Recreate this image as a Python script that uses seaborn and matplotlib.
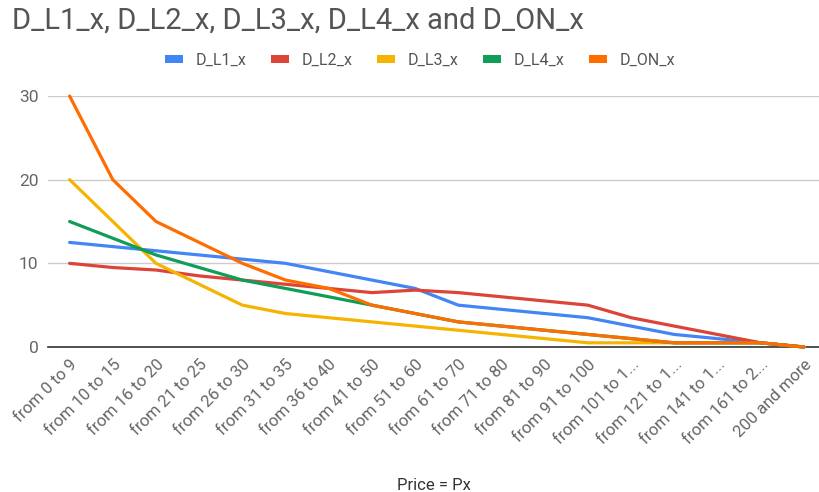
import numpy as np
import pandas as pd
import matplotlib
matplotlib.use("Agg")
import matplotlib.pyplot as plt
import seaborn as sns
from matplotlib.patches import Patch

categories = ["from 0 to 9", "from 10 to 15", "from 16 to 20", "from 21 to 25",
              "from 26 to 30", "from 31 to 35", "from 36 to 40", "from 41 to 50",
              "from 51 to 60", "from 61 to 70", "from 71 to 80", "from 81 to 90",
              "from 91 to 100", "from 101 to 1...", "from 121 to 1...",
              "from 141 to 1...", "from 161 to 2...", "200 and more"]
d_l1 = [12.5, 12, 11.5, 11, 10.5, 10, 9, 8, 7, 5, 4.5, 4, 3.5, 2.5, 1.5, 1, 0.5, 0]
d_l2 = [10, 9.5, 9.2, 8.5, 8, 7.5, 7, 6.5, 6.8, 6.5, 6, 5.5, 5, 3.5, 2.5, 1.5, 0.5, 0]
d_l3 = [20, 15, 10, 7.5, 5, 4, 3.5, 3, 2.5, 2, 1.5, 1, 0.5, 0.5, 0.5, 0.5, 0.5, 0]
d_l4 = [15, 13, 11, 9.5, 8, 7, 6, 5, 4, 3, 2.5, 2, 1.5, 1, 0.5, 0.5, 0.5, 0]
d_on = [30, 20, 15, 12.5, 10, 8, 7, 5, 4, 3, 2.5, 2, 1.5, 1, 0.5, 0.5, 0.5, 0]
series_names = ["D_L1_x", "D_L2_x", "D_L3_x", "D_L4_x", "D_ON_x"]
colors = ["#4285F4", "#DB4437", "#F4B400", "#0F9D58", "#FF6D01"]

rows = []
for name, vals in zip(series_names, [d_l1, d_l2, d_l3, d_l4, d_on]):
    for i, v in enumerate(vals):
        rows.append({"cat": i, "value": v, "series": name})
df = pd.DataFrame(rows)

sns.set_style("white")
plt.rcParams['font.family'] = ['Roboto', 'DejaVu Sans']

fig = plt.figure(figsize=(8.19, 4.92), dpi=100)
W, H = 819, 492
left, right, top, bottom = 48, 819, 96, 347
ax = fig.add_axes([left / W, 1 - bottom / H, (right - left) / W, (bottom - top) / H])

sns.lineplot(data=df, x="cat", y="value", hue="series", hue_order=series_names,
             palette=colors, linewidth=2.3, ax=ax, legend=False)
for ln in ax.get_lines():
    ln.set_clip_on(False)

ax.set_xlim(-0.5, 17.35)
ax.set_ylim(0, 30)
ax.set_yticks([0, 10, 20, 30])
ax.yaxis.grid(True, color="#cccccc", linewidth=1)
ax.set_axisbelow(True)
for s in ["top", "right", "left"]:
    ax.spines[s].set_visible(False)
ax.spines["bottom"].set_color("#333333")
ax.spines["bottom"].set_linewidth(1.2)
ax.spines["bottom"].set_zorder(1)

ax.set_xticks(range(len(categories)))
ax.set_xticklabels(categories, rotation=45, ha="right", rotation_mode="anchor",
                   fontsize=12, color="#666666")
ax.tick_params(axis="x", length=0, pad=7)
ax.tick_params(axis="y", length=0, labelsize=12.5, labelcolor="#666666", pad=7)
ax.set_ylabel("")
ax.set_xlabel("Price = Px", fontsize=12, color="#333333", labelpad=22)

fig.text(12 / W, 1 - 21 / H, "D_L1_x, D_L2_x, D_L3_x, D_L4_x and D_ON_x",
         fontsize=21, color="#555555", va="center", ha="left")

handles = [Patch(facecolor=c, edgecolor="none") for c in colors]
fig.legend(handles, series_names, loc="center", bbox_to_anchor=(420 / W, 1 - 60 / H),
           ncol=5, frameon=False, fontsize=11.5, labelcolor="#555555",
           handlelength=1.1, handleheight=0.45, handletextpad=0.8, columnspacing=1.55)

fig.savefig("out.png", dpi=100)
